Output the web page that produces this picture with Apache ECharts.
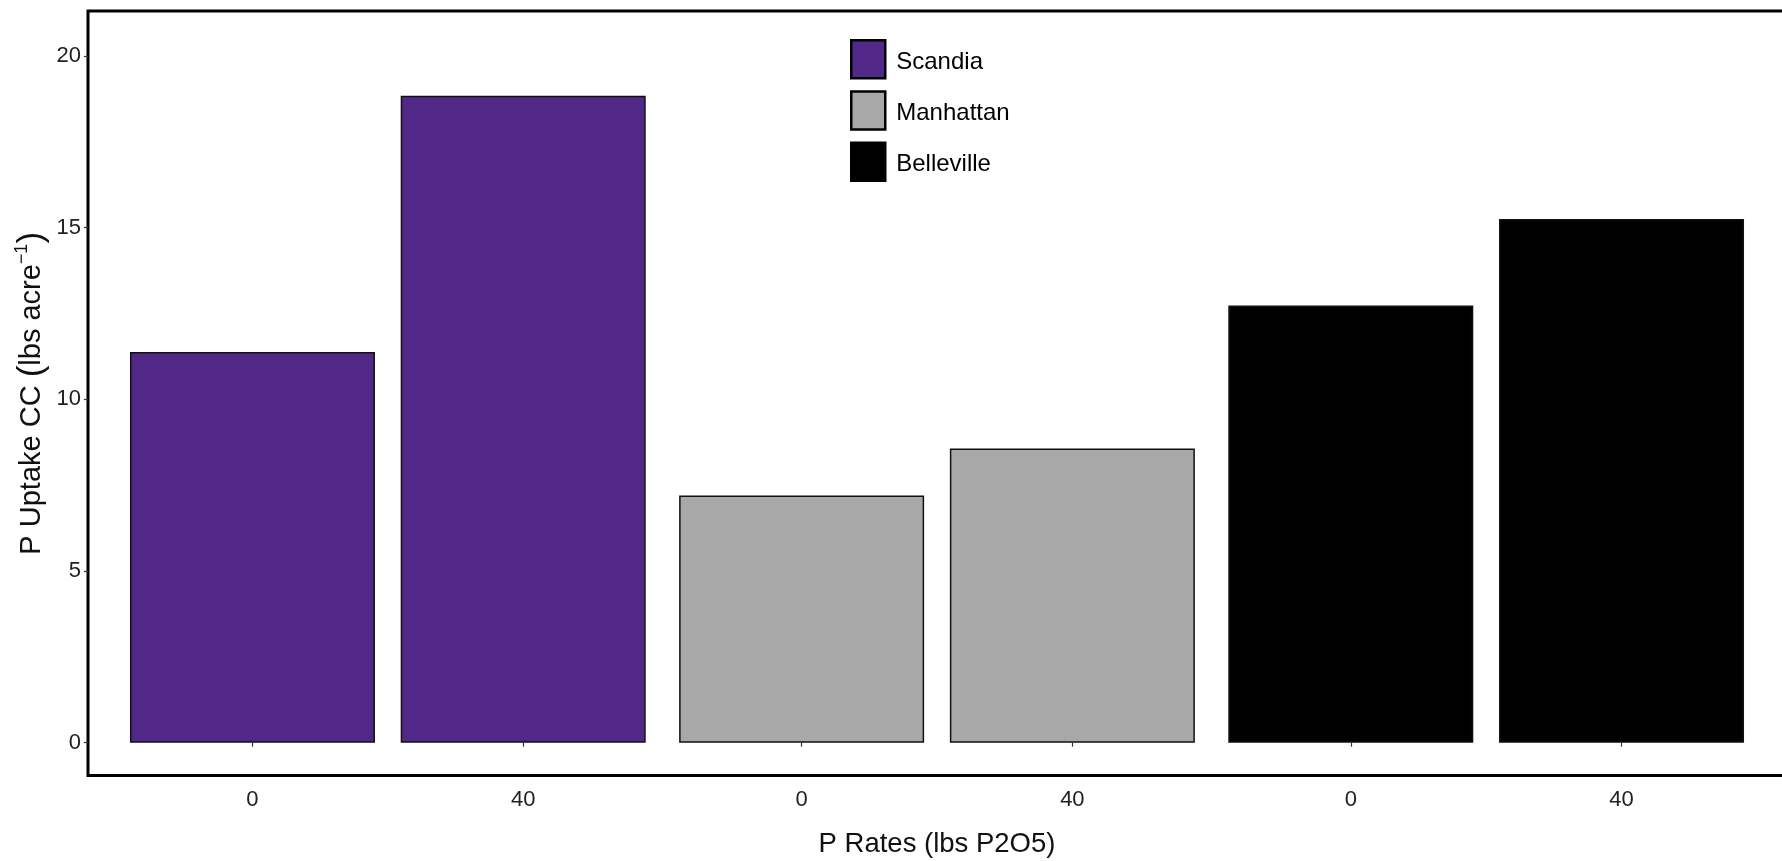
<!DOCTYPE html>
<html>
<head>
<meta charset="utf-8">
<script src="https://cdn.jsdelivr.net/npm/echarts@6/dist/echarts.min.js"></script>
<style>
html,body{margin:0;padding:0;background:#fff;}
#chart{width:1782px;height:861px;}
</style>
</head>
<body>
<div id="chart"></div>
<script>
// ---- data ----
const locations = ['Scandia', 'Manhattan', 'Belleville'];
const rates = ['0', '40'];
const scandia = [11.38, 18.84];
const manhattan = [7.2, 8.57];
const belleville = [12.73, 15.25];
const yTicks = [0, 5, 10, 15, 20];
const colors = ['#512888', '#a8a8a8', '#000000'];

// ---- layout helpers ----
const DODGE = 0.493; // distance between the two rate bars within a location group
const seriesValues = [scandia, manhattan, belleville];
const xPos = (g, i) => g + 1 + (i - (rates.length - 1) / 2) * DODGE;
const xTickLabels = [];
const xTickPositions = [];
locations.forEach((loc, g) => {
  rates.forEach((r, i) => {
    xTickLabels.push(r);
    xTickPositions.push(xPos(g, i));
  });
});
const labelFor = (v) => {
  let best = 0, bd = Infinity;
  xTickPositions.forEach((p, k) => { const d = Math.abs(p - v); if (d < bd) { bd = d; best = k; } });
  return xTickLabels[best];
};

const FONT = "'Liberation Sans', Arial, Helvetica, sans-serif";

const series = locations.map((loc, g) => ({
  name: loc,
  type: 'bar',
  barWidth: 245,
  barGap: '-100%',
  data: seriesValues[g].map((v, i) => [xPos(g, i), v]),
  itemStyle: {
    color: colors[g],
    borderColor: '#111',
    borderWidth: 1.5
  },
  emphasis: { disabled: true },
  animation: false
}));

const chart = echarts.init(document.getElementById('chart'), null, { renderer: 'canvas' });
chart.setOption({
  backgroundColor: '#ffffff',
  animation: false,
  textStyle: { fontFamily: FONT },
  grid: {
    left: 88,
    top: 11,
    width: 1698,
    bottom: 85.4,
    outerBoundsMode: 'none',
    containLabel: false,
    show: true,
    borderColor: '#000',
    borderWidth: 3,
    backgroundColor: 'transparent'
  },
  legend: {
    orient: 'vertical',
    left: 850,
    top: 39,
    padding: 0,
    itemWidth: 34,
    itemHeight: 38,
    itemGap: 10.7,
    icon: 'rect',
    itemStyle: { borderColor: '#000', borderWidth: 2.5 },
    formatter: (name) => '{t|' + name + '}',
    textStyle: {
      fontSize: 24, color: '#000', fontFamily: FONT,
      rich: { t: { fontSize: 24, color: '#000', fontFamily: FONT, padding: [6, 0, 0, 6] } }
    },
    data: locations
  },
  xAxis: {
    type: 'value',
    min: 0.454,
    max: 3.546,
    splitLine: { show: false },
    axisLine: { show: false },
    axisTick: {
      show: true,
      length: 4,
      customValues: xTickPositions,
      lineStyle: { color: '#333', width: 1.2 }
    },
    axisLabel: {
      customValues: xTickPositions,
      formatter: (v) => labelFor(v),
      fontSize: 22,
      color: '#222',
      margin: 13,
      fontFamily: FONT
    },
    name: 'P Rates (lbs P2O5)',
    nameLocation: 'middle',
    nameGap: 54.5,
    nameTextStyle: { fontSize: 27.5, color: '#111', fontFamily: FONT }
  },
  yAxis: {
    type: 'value',
    min: -0.96,
    max: 21.31,
    splitLine: { show: false },
    axisLine: { show: false },
    axisTick: {
      show: true,
      length: 4,
      customValues: yTicks,
      lineStyle: { color: '#333', width: 1.2 }
    },
    axisLabel: {
      customValues: yTicks,
      fontSize: 22,
      color: '#222',
      margin: 7,
      fontFamily: FONT
    },
    name: 'P Uptake CC {p|(}lbs acre{sup|\u22121}{p|)}',
    nameLocation: 'middle',
    nameRotate: 90,
    nameGap: 37,
    nameMoveOverlap: false,
    nameTextStyle: {
      fontSize: 29,
      color: '#111',
      fontFamily: FONT,
      lineHeight: 38,
      rich: {
        p: { fontSize: 35, color: '#111', fontFamily: FONT, lineHeight: 38 },
        sup: { fontSize: 18, color: '#111', fontFamily: FONT, verticalAlign: 'top', lineHeight: 21 }
      }
    }
  },
  series: series
});
</script>
</body>
</html>
